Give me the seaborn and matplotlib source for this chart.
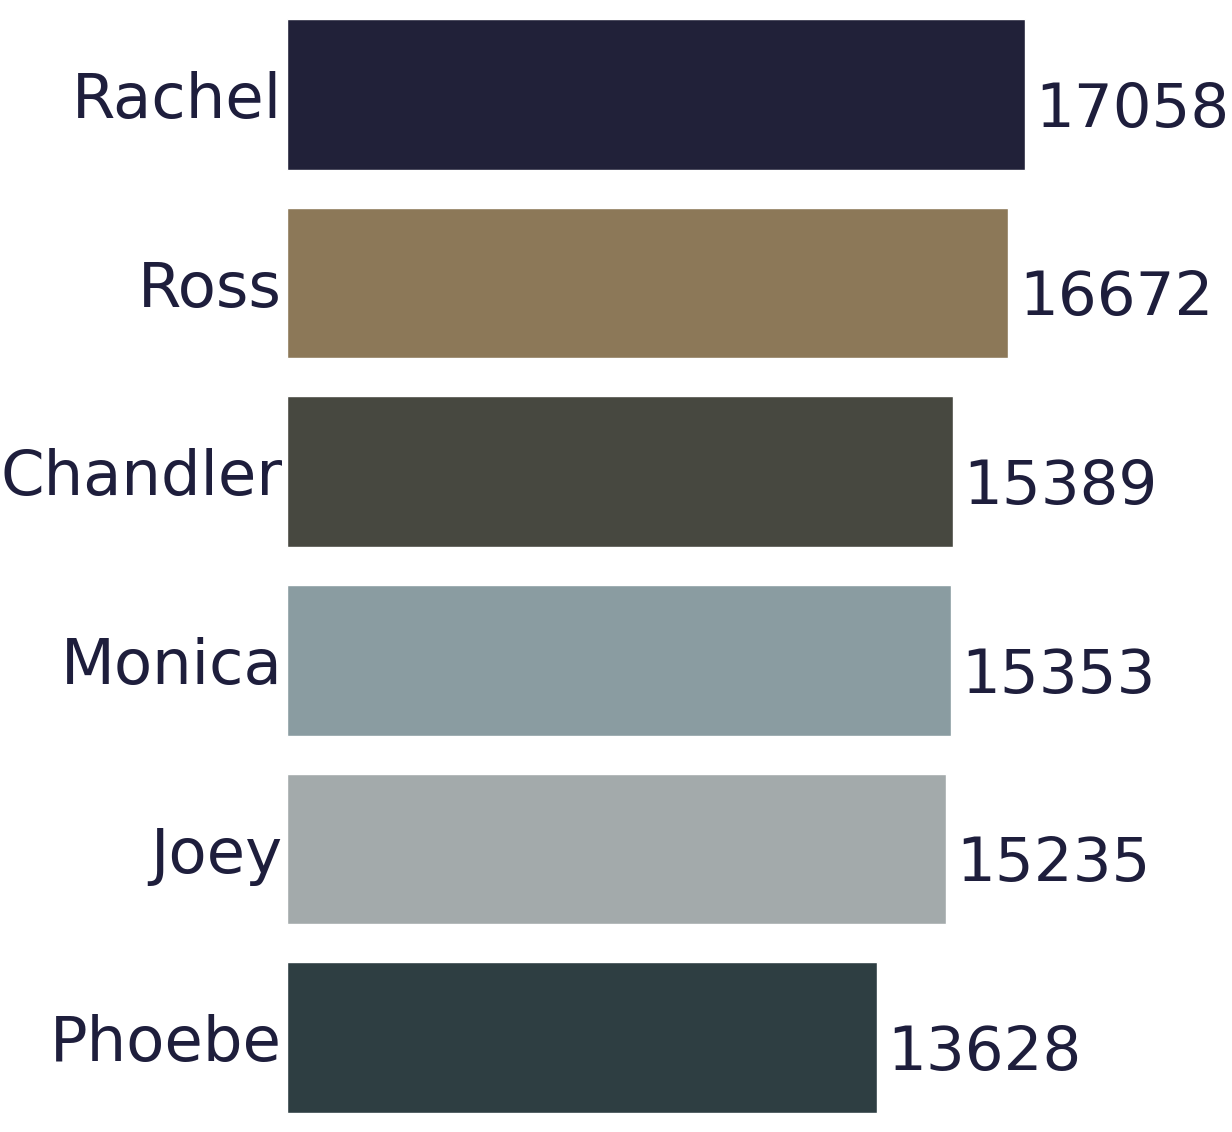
import numpy as np
import pandas as pd
import matplotlib
matplotlib.use("Agg")
import matplotlib.pyplot as plt
import seaborn as sns

### data
characters = ["Rachel", "Ross", "Chandler", "Monica", "Joey", "Phoebe"]
lines = [17058, 16672, 15389, 15353, 15235, 13628]
bar_colors = ["#212139", "#8c7858", "#474840", "#8a9ca1", "#a3aaab", "#2e3e42"]
text_color = "#1e1e3c"

df = pd.DataFrame({"character": characters, "lines": lines})

sns.set_style("white")
fig = plt.figure(figsize=(12.32, 11.32), dpi=100)
ax = fig.add_axes([287 / 1232, 0.0, 775 / 1232, 1.0])

sns.barplot(data=df, x="lines", y="character", hue="character",
            palette=bar_colors, legend=False, width=0.8, saturation=1, ax=ax)

# value labels to the right of each bar
for i, v in enumerate(lines):
    ax.text(v + 240, i + 0.172, str(v), fontsize=44, color=text_color,
            va="baseline", ha="left")

ax.set_xlim(0, 17911)
ax.set_ylim(5.5, -0.5)
ax.set_xlabel("")
ax.set_ylabel("")
ax.set_xticks([])
ax.tick_params(axis="y", direction="in", length=4.5, width=1,
               color=text_color, labelsize=45, labelcolor=text_color, pad=3.5)
for s in ax.spines.values():
    s.set_visible(False)

fig.savefig("out.png", dpi=100)
